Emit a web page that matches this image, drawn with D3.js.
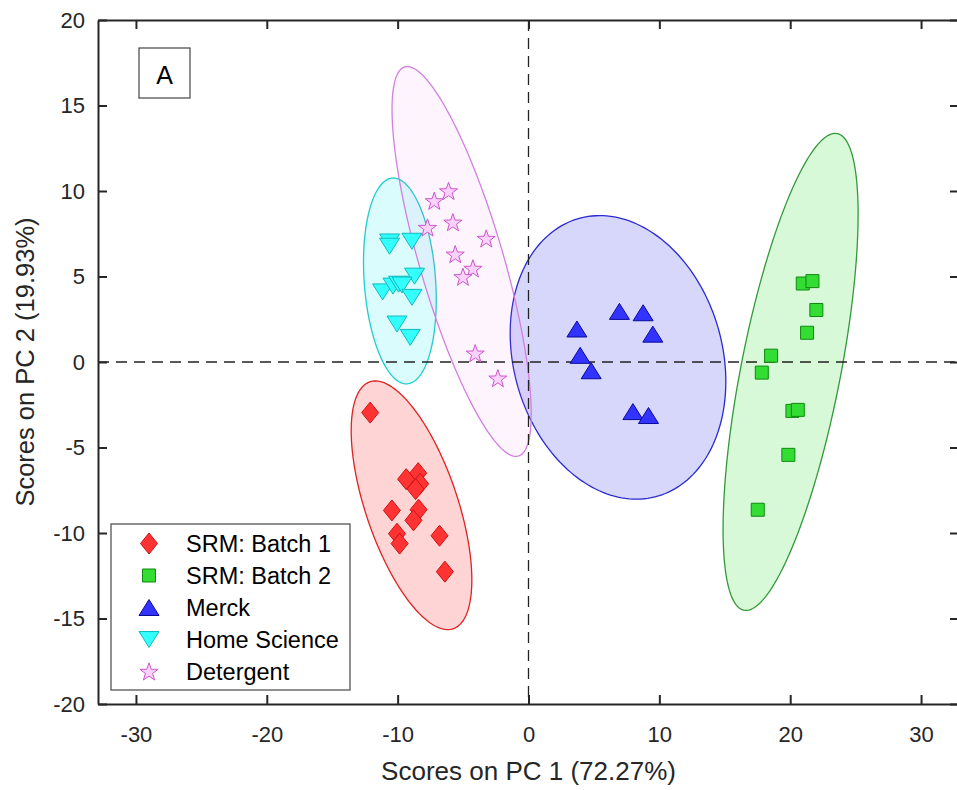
<!DOCTYPE html>
<html>
<head>
<meta charset="utf-8">
<script src="https://cdn.jsdelivr.net/npm/d3@7"></script>
<style>
  body { margin: 0; background: #fff; }
  svg { display: block; font-family: "Liberation Sans", Arial, sans-serif; }
</style>
</head>
<body>
<div id="chart"></div>
<script>
// group names (legend order)
var groups = ["SRM: Batch 1", "SRM: Batch 2", "Merck", "Home Science", "Detergent"];

// scores
var batch1X = [-12.1, -9.35, -8.43, -8.28, -8.63, -10.44, -8.4, -8.79, -10.05, -9.85, -6.8, -6.39];
var batch1Y = [-2.96, -6.85, -6.5, -7.12, -7.43, -8.68, -8.64, -9.26, -10.04, -10.62, -10.16, -12.26];

var batch2X = [20.96, 21.7, 22.0, 21.29, 18.54, 17.83, 20.17, 20.58, 19.86, 17.52];
var batch2Y = [4.59, 4.73, 3.04, 1.71, 0.37, -0.62, -2.86, -2.8, -5.43, -8.64];

var merckX = [6.95, 8.76, 9.5, 3.7, 3.95, 4.79, 7.98, 9.17];
var merckY = [2.96, 2.88, 1.63, 1.93, 0.39, -0.51, -2.9, -3.13];

var homeX = [-10.62, -10.62, -8.91, -8.71, -11.15, -10.36, -9.93, -9.67, -8.91, -10.05, -9.04];
var homeY = [7.02, 6.77, 7.06, 5.02, 4.1, 4.44, 4.55, 4.5, 3.78, 2.22, 1.44];

var detX = [-6.11, -7.2, -5.78, -7.72, -3.23, -5.6, -4.25, -5.01, -4.07, -2.34];
var detY = [10.0, 9.42, 8.17, 7.86, 7.22, 6.3, 5.47, 4.98, 0.51, -0.95];

// confidence ellipses: centre, half extents, correlation (same order as groups)
var ellCx  = [-8.94, 20.03, 6.84, -9.83, -5.11];
var ellCy  = [-8.38, -0.58, 0.27, 4.74, 5.88];
var ellSx  = [4.61, 5.16, 8.24, 2.78, 5.32];
var ellSy  = [7.27, 13.95, 8.29, 6.02, 11.40];
var ellRho = [-0.6, 0.66, -0.17, -0.18, -0.78];

var xTicks = [-30, -20, -10, 0, 10, 20, 30];
var yTicks = [-20, -15, -10, -5, 0, 5, 10, 15, 20];

var W = 957, H = 790;
var pL = 98, pT = 20, pR = 959, pB = 704;

var x = d3.scaleLinear().domain([-32.9, 32.9]).range([pL, pR]);
var y = d3.scaleLinear().domain([-20, 20]).range([pB, pT]);

var svg = d3.select("#chart").append("svg").attr("width", W).attr("height", H);

var styles = [
  {fill: "#ff3333", stroke: "#cc1111", ell: "#dd2222", ellFill: "#ff0000", ellOp: 0.17, shape: "diamond"},
  {fill: "#33dd33", stroke: "#118811", ell: "#33993a", ellFill: "#22dd22", ellOp: 0.18, shape: "square"},
  {fill: "#3333ff", stroke: "#0a0a99", ell: "#2a2ad0", ellFill: "#2a2aee", ellOp: 0.19, shape: "up"},
  {fill: "#33ffff", stroke: "#11bbbb", ell: "#22cccc", ellFill: "#22eeee", ellOp: 0.17, shape: "down"},
  {fill: "#fbd2fb", stroke: "#cc55cc", ell: "#d27fe0", ellFill: "#ee66ee", ellOp: 0.07, shape: "star"}
];

var pts = [
  d3.zip(batch1X, batch1Y), d3.zip(batch2X, batch2Y), d3.zip(merckX, merckY),
  d3.zip(homeX, homeY), d3.zip(detX, detY)
];

function shapePath(s) {
  if (s === "diamond") return "M0,-10.5L8.5,0L0,10.5L-8.5,0Z";
  if (s === "square") return "M-6.5,-6.5H6.5V6.5H-6.5Z";
  if (s === "up") return "M0,-8L10,8L-10,8Z";
  if (s === "down") return "M0,8L10,-8L-10,-8Z";
  var p = [];
  for (var k = 0; k < 10; k++) {
    var r = k % 2 === 0 ? 9.5 : 3.8;
    var a = -Math.PI / 2 + k * Math.PI / 5;
    p.push([r * Math.cos(a), r * Math.sin(a) + 0.8]);
  }
  return "M" + p.map(function(d) { return d[0].toFixed(2) + "," + d[1].toFixed(2); }).join("L") + "Z";
}

// ellipses
var ellLine = d3.line().x(function(d) { return x(d[0]); }).y(function(d) { return y(d[1]); })
  .curve(d3.curveLinearClosed);
var gEll = svg.append("g");
groups.forEach(function(g, i) {
  var pts2 = d3.range(0, 2 * Math.PI, Math.PI / 90).map(function(t) {
    return [ellCx[i] + ellSx[i] * Math.cos(t),
            ellCy[i] + ellSy[i] * (ellRho[i] * Math.cos(t) + Math.sqrt(1 - ellRho[i] * ellRho[i]) * Math.sin(t))];
  });
  gEll.append("path").attr("d", ellLine(pts2))
    .attr("fill", styles[i].ellFill).attr("fill-opacity", styles[i].ellOp)
    .attr("stroke", styles[i].ell).attr("stroke-width", 1.3);
});

// zero lines
svg.append("line").attr("x1", x(0)).attr("x2", x(0)).attr("y1", pT).attr("y2", pB)
  .attr("stroke", "#222").attr("stroke-width", 1.3).attr("stroke-dasharray", "11,7");
svg.append("line").attr("x1", pL).attr("x2", pR).attr("y1", y(0)).attr("y2", y(0))
  .attr("stroke", "#222").attr("stroke-width", 1.3).attr("stroke-dasharray", "11,7");

// markers
groups.forEach(function(g, i) {
  svg.append("g").selectAll("path").data(pts[i]).enter().append("path")
    .attr("transform", function(d) { return "translate(" + x(d[0]) + "," + y(d[1]) + ")"; })
    .attr("d", shapePath(styles[i].shape))
    .attr("fill", styles[i].fill).attr("stroke", styles[i].stroke).attr("stroke-width", 1);
});

// axes
var axCol = "#262626";
var fmt = function(d) { return String(d); };
var gx = svg.append("g").attr("transform", "translate(0," + pB + ")")
  .call(d3.axisBottom(x).tickValues(xTicks).tickSizeInner(-9).tickSizeOuter(0).tickPadding(22).tickFormat(fmt));
var gxt = svg.append("g").attr("transform", "translate(0," + pT + ")")
  .call(d3.axisTop(x).tickValues(xTicks).tickSizeInner(-9).tickSizeOuter(0).tickFormat(""));
var gy = svg.append("g").attr("transform", "translate(" + pL + ",0)")
  .call(d3.axisLeft(y).tickValues(yTicks).tickSizeInner(-9).tickSizeOuter(0).tickPadding(13).tickFormat(fmt));
var gyr = svg.append("g").attr("transform", "translate(" + pR + ",0)")
  .call(d3.axisRight(y).tickValues(yTicks).tickSizeInner(-9).tickSizeOuter(0).tickFormat(""));
[gx, gxt, gy, gyr].forEach(function(g) {
  g.select(".domain").attr("stroke", axCol).attr("stroke-width", 2);
  g.selectAll(".tick line").attr("stroke", axCol).attr("stroke-width", 2);
  g.selectAll(".tick text").attr("fill", "#262626").style("font-size", "22px")
    .style("font-family", "'Liberation Sans', Arial, sans-serif");
});

// axis titles
svg.append("text").attr("x", x(0)).attr("y", 780).attr("text-anchor", "middle")
  .style("font-size", "26px").attr("fill", "#262626").text("Scores on PC 1 (72.27%)");
svg.append("text").attr("transform", "translate(34," + y(0) + ") rotate(-90)").attr("text-anchor", "middle")
  .style("font-size", "25.5px").attr("fill", "#262626").text("Scores on PC 2 (19.93%)");

// panel label
svg.append("rect").attr("x", 139).attr("y", 48).attr("width", 51).attr("height", 50)
  .attr("fill", "#fff").attr("stroke", "#444").attr("stroke-width", 1.2);
svg.append("text").attr("x", 164.5).attr("y", 84).attr("text-anchor", "middle")
  .style("font-size", "25px").attr("fill", "#000").text("A");

// legend
var lg = svg.append("g");
lg.append("rect").attr("x", 111).attr("y", 524).attr("width", 239).attr("height", 166)
  .attr("fill", "#fff").attr("stroke", "#555").attr("stroke-width", 1.3);
groups.forEach(function(g, i) {
  var yy = 543.5 + i * 32;
  lg.append("path").attr("transform", "translate(149," + yy + ")")
    .attr("d", shapePath(styles[i].shape))
    .attr("fill", styles[i].fill).attr("stroke", styles[i].stroke).attr("stroke-width", 1);
  lg.append("text").attr("x", 186).attr("y", yy + 8).style("font-size", "23.5px")
    .attr("fill", "#000").text(g);
});
</script>
</body>
</html>
